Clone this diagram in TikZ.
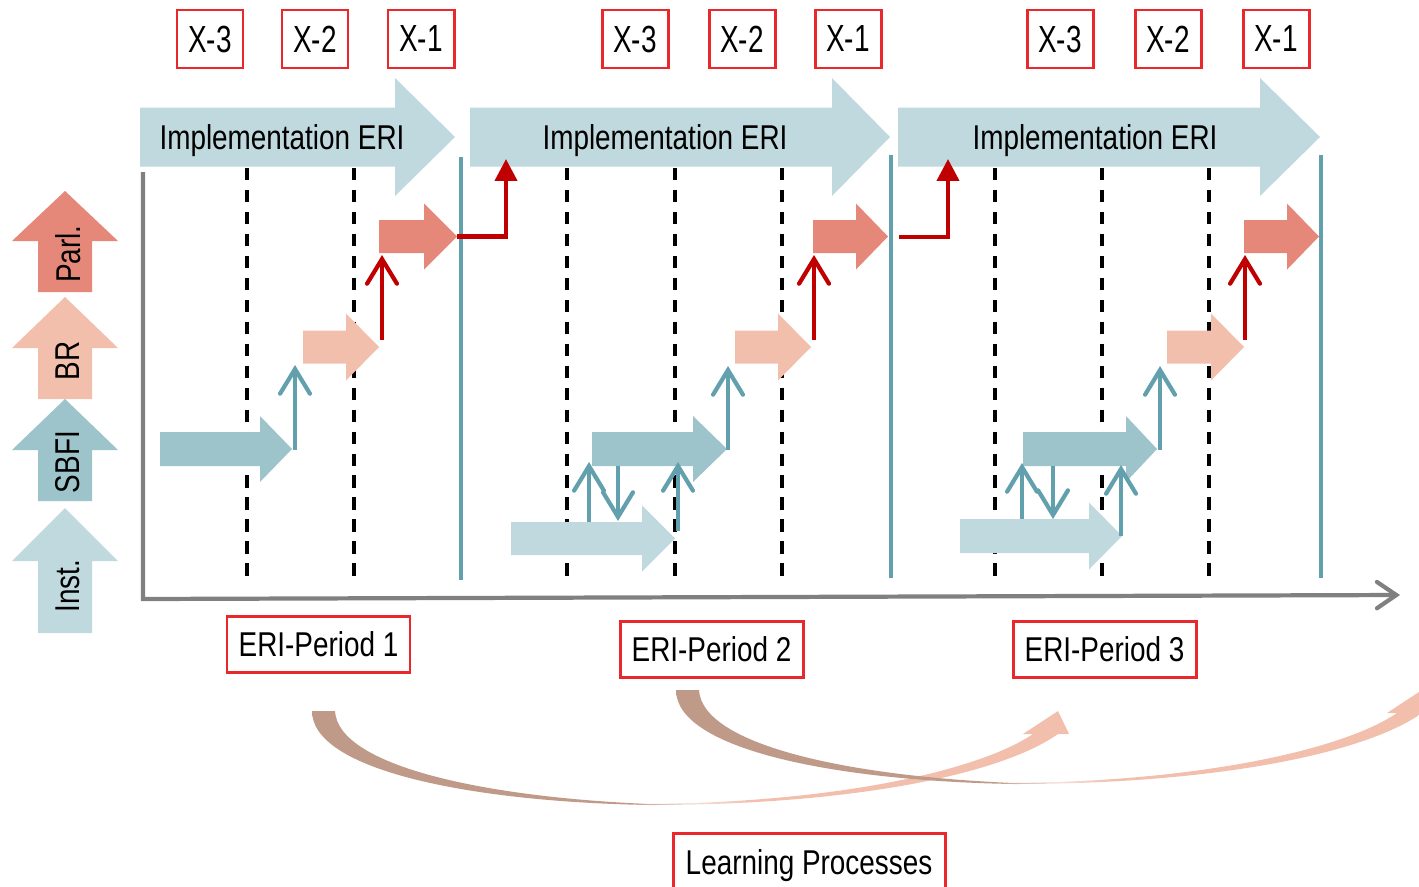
\documentclass[tikz,border=0pt]{standalone}
\usepackage{fontspec}
\setmainfont{Liberation Sans}[FakeStretch=0.81]
\newfontfamily\xfont{Liberation Sans}[FakeStretch=0.74]
\usetikzlibrary{arrows.meta}
\definecolor{tealline}{HTML}{62A0AE}
\definecolor{parlc}{HTML}{E5887A}
\definecolor{brc}{HTML}{F2BFAD}
\definecolor{sbfic}{HTML}{9DC3CB}
\definecolor{instc}{HTML}{BFD9DE}
\definecolor{darkred}{HTML}{C00000}
\definecolor{boxred}{HTML}{E8282B}
\definecolor{axisgray}{HTML}{808080}
\definecolor{lpbrown}{HTML}{C09A88}
\definecolor{lplight}{HTML}{F3E3DC}
\definecolor{lppeach}{HTML}{F2BFAD}
\pgfdeclarehorizontalshading{lpshade}{100bp}{color(0bp)=(lpbrown); color(46bp)=(lpbrown); color(50bp)=(lplight); color(54bp)=(lppeach); color(100bp)=(lppeach)}
\newcommand\rarrow[8]{%
  \fill[#2] (#3,#6-#7) -- (#4,#6-#7) -- (#4,#6-#8) -- (#5,#6) -- (#4,#6+#8) -- (#4,#6+#7) -- (#3,#6+#7) -- cycle;
  \coordinate (#1-tip) at (#5,#6);
}
\newcommand\uarrow[5]{%
  \fill[#2] (38,#5) -- (38,#4) -- (12,#4) -- (65,#3) -- (118,#4) -- (92,#4) -- (92,#5) -- cycle;
  \coordinate (#1-top) at (65,#3);
}
\newcommand\lparrow{%
  (312,711) .. controls (312,770) and (470,802) .. (650,805)
  .. controls (850,805) and (1000,775) .. (1058,734)
  -- (1069,734) -- (1058,711) -- (1023,734) -- (1033,734)
  .. controls (980,770) and (840,802) .. (650,804)
  .. controls (480,797) and (338,765) .. (335,711) -- cycle
}
\begin{document}
\begin{tikzpicture}[x=0.02cm,y=-0.02cm,
  txt/.style={font=\fontsize{19.6}{23}\selectfont, text=black},
  xbox/.style={draw=boxred, line width=1.7pt, minimum width=66*0.02cm, minimum height=58*0.02cm, inner sep=0pt, font=\xfont\fontsize{21.5}{24}\selectfont},
  pbox/.style={draw=boxred, line width=1.7pt, minimum width=183*0.02cm, minimum height=56*0.02cm, inner sep=0pt, txt},
  dashline/.style={black, line width=1.9pt, dash pattern=on 7pt off 5.5pt},
  period/.style={tealline, line width=2.3pt},
  tealarr/.style={tealline, line width=2.4pt, -{Straight Barb[length=14pt,width=17pt,line cap=round]}},
  redarr/.style={darkred, line width=2.4pt, -{Straight Barb[length=14pt,width=17pt,line cap=round]}},
  redconn/.style={darkred, line width=2.4pt, -{Triangle[length=12.5pt,width=12.5pt]}},
  axis/.style={axisgray, line width=2.4pt, -{Straight Barb[length=11pt,width=15pt,line cap=round]}}
]
\useasboundingbox (0,0) rectangle (1419,886);
\clip (0,0) rectangle (1419,886);

% legend
\uarrow{lparl}{parlc}{191}{241}{292}
\uarrow{lbr}{brc}{297}{348}{399}
\uarrow{lsbfi}{sbfic}{399}{450}{501}
\uarrow{linst}{instc}{508}{561}{633}
\node[txt, rotate=90] (tparl) at (68,254) {Parl.};
\node[txt, rotate=90] (tbr) at (68,361) {BR};
\node[txt, rotate=90] (tsbfi) at (68,462) {SBFI};
\node[txt, rotate=90] (tinst) at (68,586) {Inst.};

% X boxes
\foreach \n/\x/\t in {a3/210/X-3, a2/315/X-2, a1/421/X-1, b3/635/X-3, b2/742/X-2, b1/848/X-1, c3/1060/X-3, c2/1168/X-2, c1/1276/X-1}
  \node[xbox] (x\n) at (\x,39) {\t};

% dashed year lines
\foreach \x in {247,354,567,675,782,995,1102,1209}
  \draw[dashline] (\x,168) -- (\x,583);

% axis
\coordinate (ax-top) at (143,172);
\coordinate (ax-origin) at (143,599);
\coordinate (ax-end) at (1400,595);
\draw[axis] (ax-top) -- (ax-origin) -- (ax-end);

% period separators
\draw[period] (461,157) -- (461,580);
\draw[period] (891,155) -- (891,578);
\draw[period] (1321,155) -- (1321,578);

% implementation arrows
\rarrow{impl1}{instc}{140}{395}{455}{137}{29.5}{59}
\rarrow{impl2}{instc}{470}{832}{890}{137}{29.5}{59}
\rarrow{impl3}{instc}{898}{1260}{1320}{137}{29.5}{59}
\node[txt] (timpl1) at (282,141) {Implementation ERI};
\node[txt] (timpl2) at (665,141) {Implementation ERI};
\node[txt] (timpl3) at (1095,141) {Implementation ERI};

% section 1
\rarrow{sbfi1}{sbfic}{160}{260}{292}{449}{17}{33}
\rarrow{br1}{brc}{303}{346}{379}{347}{16.5}{33.5}
\rarrow{parl1}{parlc}{379}{424}{457}{236.5}{16.5}{33}
% section 2
\rarrow{inst2}{instc}{511}{642}{675}{538.5}{16.5}{33}
\rarrow{sbfi2}{sbfic}{592}{693}{727}{449}{17}{33}
\rarrow{br2}{brc}{735}{778}{811}{347}{16.5}{33.5}
\rarrow{parl2}{parlc}{813}{856}{888}{236.5}{16.5}{33}
% section 3
\rarrow{inst3}{instc}{960}{1089}{1122}{536}{17}{33.5}
\rarrow{sbfi3}{sbfic}{1023}{1126}{1157}{449}{17}{33}
\rarrow{br3}{brc}{1167}{1211}{1244}{347}{16.5}{33.5}
\rarrow{parl3}{parlc}{1244}{1287}{1319}{236.5}{16.5}{33}

% small teal connectors
\coordinate (s1a) at (295,450); \coordinate (s1b) at (295,365);
\draw[tealarr] (s1a) -- (s1b);
\coordinate (s2a) at (589,522); \coordinate (s2b) at (589,462);
\coordinate (s2c) at (618,466); \coordinate (s2d) at (618,521);
\coordinate (s2e) at (678,531); \coordinate (s2f) at (678,462);
\coordinate (s2g) at (728,450); \coordinate (s2h) at (728,366);
\draw[tealarr] (s2a) -- (s2b);
\draw[tealarr] (s2c) -- (s2d);
\draw[tealarr] (s2e) -- (s2f);
\draw[tealarr] (s2g) -- (s2h);
\coordinate (s3a) at (1022,519); \coordinate (s3b) at (1022,463);
\coordinate (s3c) at (1053,466); \coordinate (s3d) at (1053,519);
\coordinate (s3e) at (1121,536); \coordinate (s3f) at (1121,465);
\coordinate (s3g) at (1160,450); \coordinate (s3h) at (1160,366);
\draw[tealarr] (s3a) -- (s3b);
\draw[tealarr] (s3c) -- (s3d);
\draw[tealarr] (s3e) -- (s3f);
\draw[tealarr] (s3g) -- (s3h);

% red connectors
\coordinate (r1a) at (382,340); \coordinate (r1b) at (382,255);
\coordinate (r2a) at (814,340); \coordinate (r2b) at (814,255);
\coordinate (r3a) at (1245,340); \coordinate (r3b) at (1245,255);
\draw[redarr] (r1a) -- (r1b);
\draw[redarr] (r2a) -- (r2b);
\draw[redarr] (r3a) -- (r3b);
\coordinate (l1end) at (506,159);
\coordinate (l2start) at (899,237);
\coordinate (l2end) at (948,159);
\draw[redconn] (parl1-tip) -| (l1end);
\draw[redconn] (l2start) -| (l2end);

% period boxes
\node[pbox] (p1) at (318.5,644) {ERI-Period 1};
\node[pbox] (p2) at (711.5,649) {ERI-Period 2};
\node[pbox] (p3) at (1104.5,649) {ERI-Period 3};

% learning process arrows
\shade[shading=lpshade] \lparrow;
\begin{scope}[shift={(364,-21)}]
\shade[shading=lpshade] \lparrow;
\end{scope}

\node[pbox, minimum width=272*0.02cm, minimum height=66*0.02cm] (lp) at (809,866) {Learning Processes};
\end{tikzpicture}
\end{document}
